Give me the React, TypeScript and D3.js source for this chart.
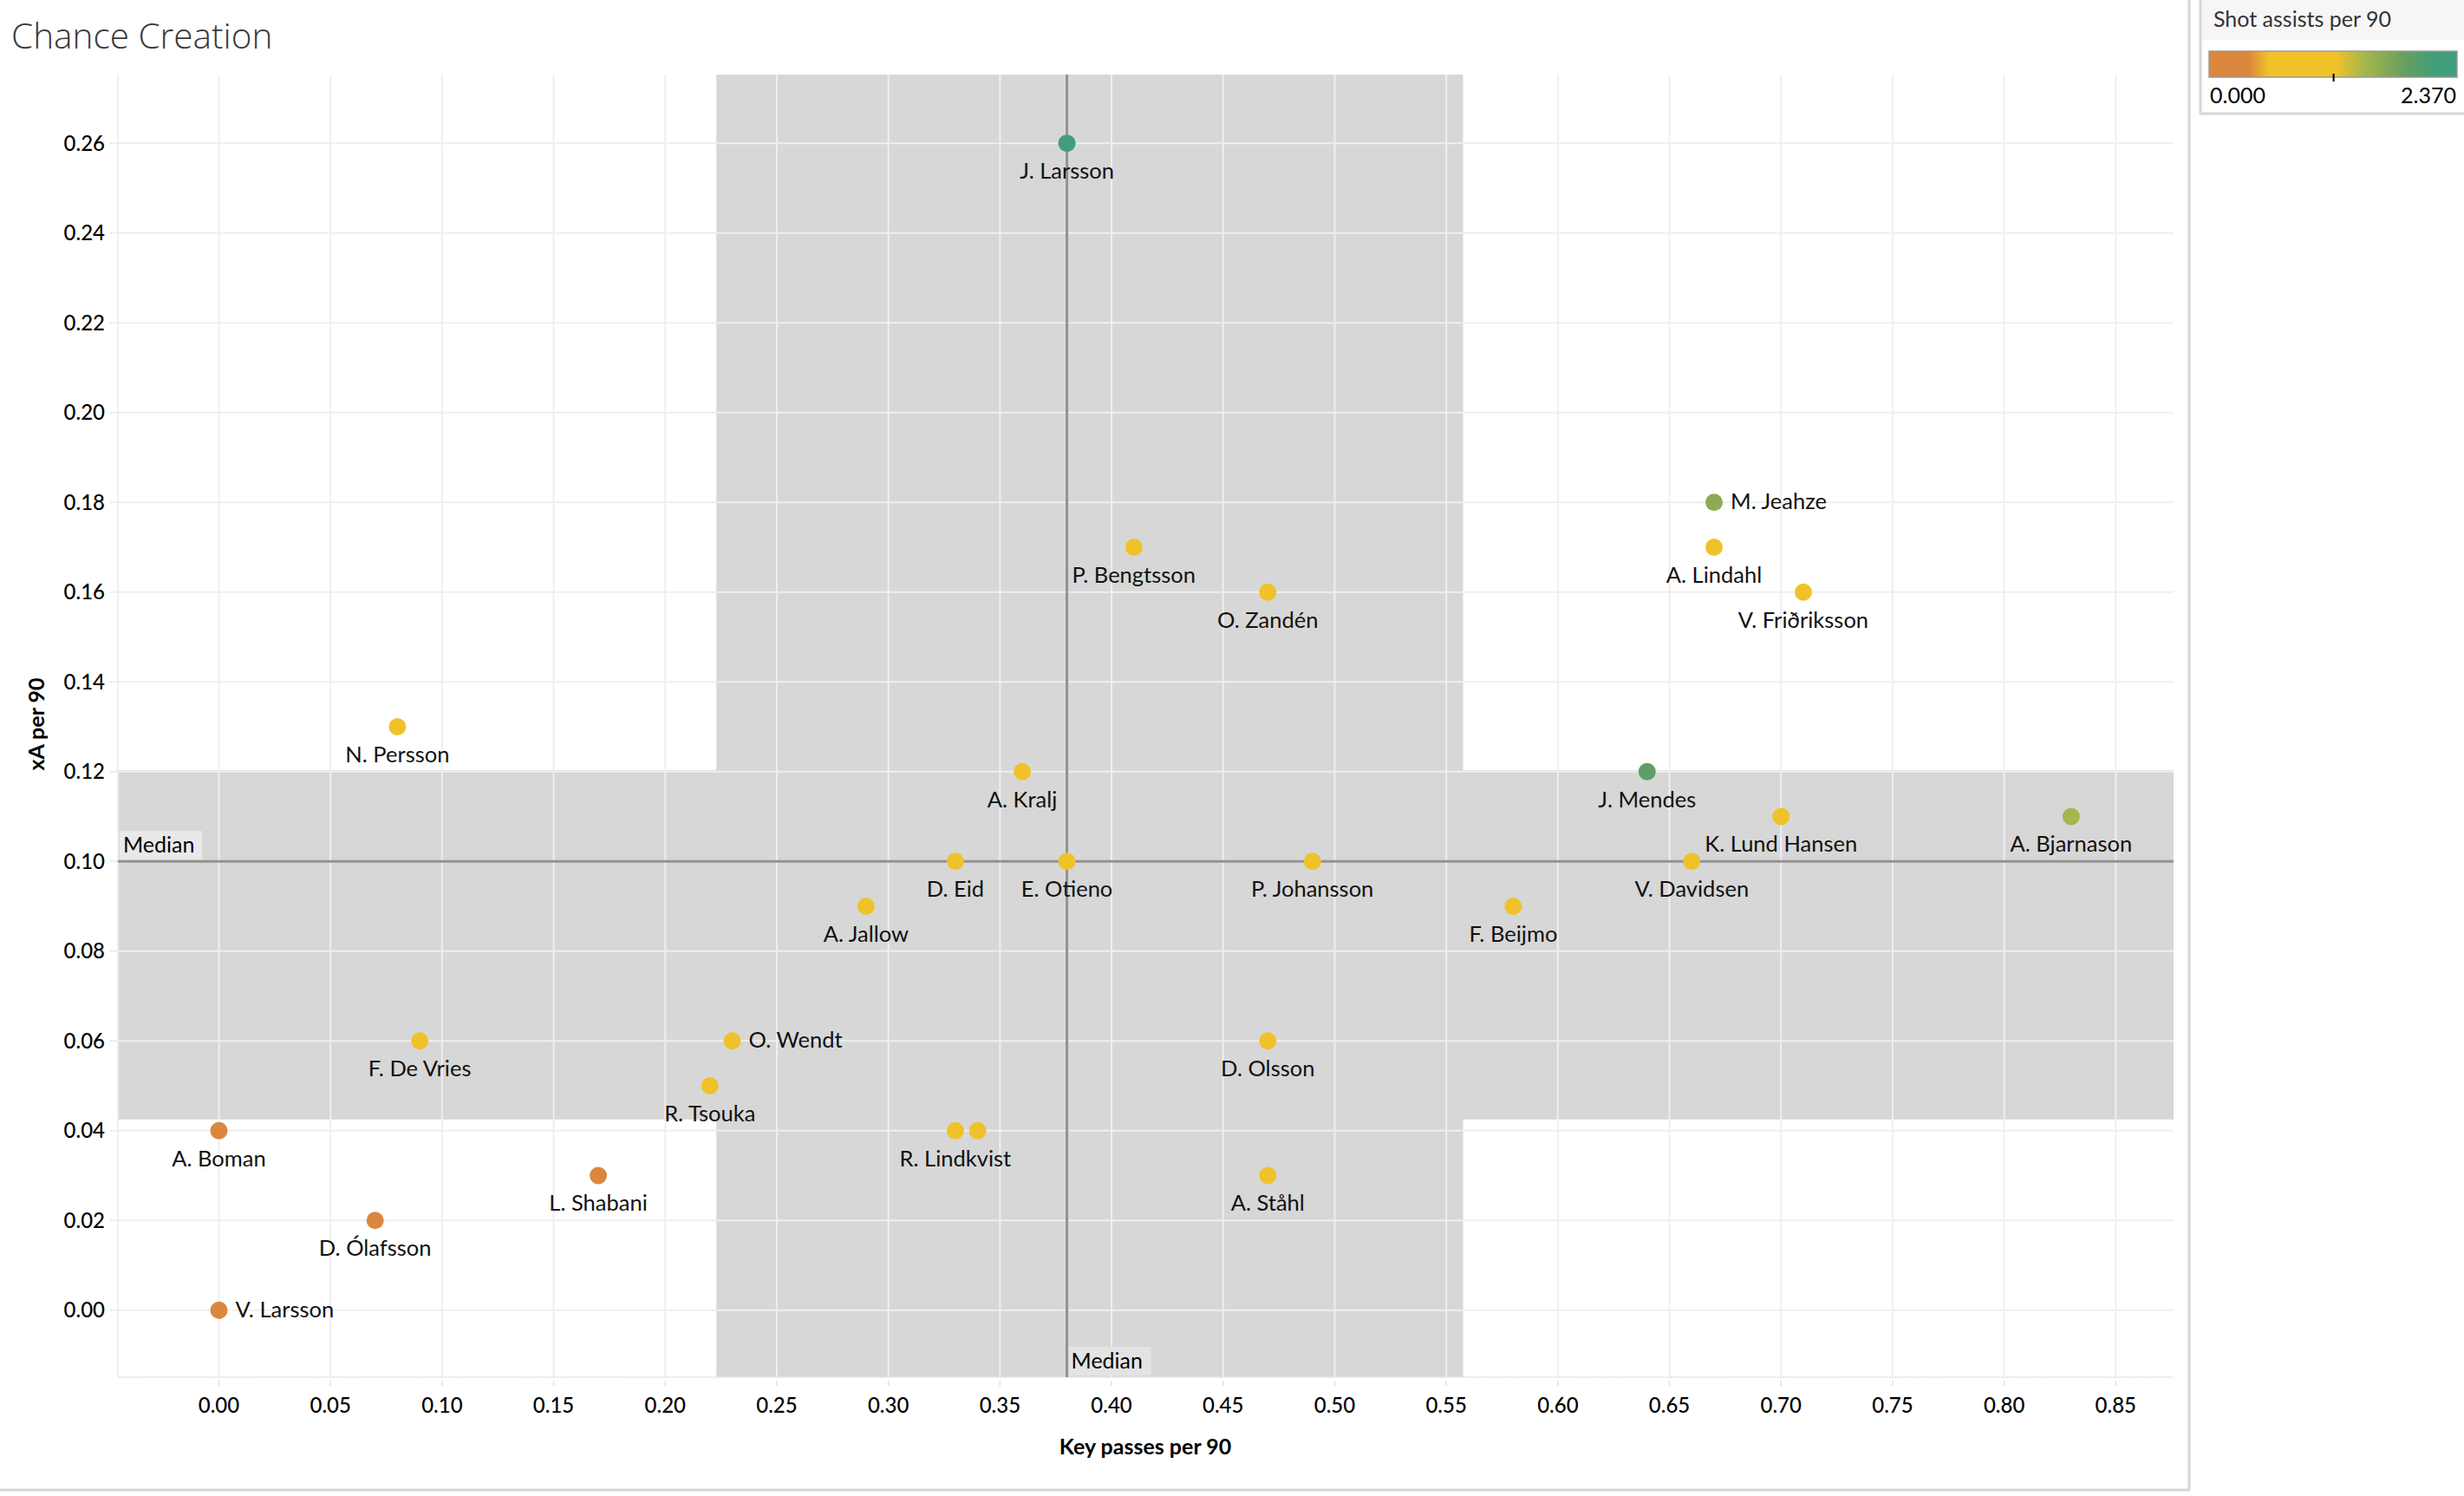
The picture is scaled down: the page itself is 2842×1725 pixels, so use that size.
import React from "react";
import * as d3 from "d3";

const players = ["J. Larsson","M. Jeahze","P. Bengtsson","A. Lindahl","O. Zandén","V. Friðriksson","N. Persson","A. Kralj","J. Mendes","K. Lund Hansen","A. Bjarnason","D. Eid","E. Otieno","P. Johansson","V. Davidsen","A. Jallow","F. Beijmo","F. De Vries","O. Wendt","D. Olsson","R. Tsouka","A. Boman","R. Lindkvist","","L. Shabani","A. Ståhl","D. Ólafsson","V. Larsson"];
const keyPasses = [0.38,0.67,0.41,0.67,0.47,0.71,0.08,0.36,0.64,0.70,0.83,0.33,0.38,0.49,0.66,0.29,0.58,0.09,0.23,0.47,0.22,0.00,0.33,0.34,0.17,0.47,0.07,0.00];
const xA = [0.26,0.18,0.17,0.17,0.16,0.16,0.13,0.12,0.12,0.11,0.11,0.10,0.10,0.10,0.10,0.09,0.09,0.06,0.06,0.06,0.05,0.04,0.04,0.04,0.03,0.03,0.02,0.00];
const shotAssists = [2.37,1.65,0.8,0.9,0.85,0.9,0.8,0.75,1.95,0.85,1.5,0.8,0.85,0.8,0.75,0.8,0.8,0.75,0.8,0.8,0.75,0.35,0.8,0.8,0.12,0.8,0.1,0.0];
const labelRight = ["M. Jeahze","O. Wendt","V. Larsson"];

const xTicks = [0,0.05,0.1,0.15,0.2,0.25,0.3,0.35,0.4,0.45,0.5,0.55,0.6,0.65,0.7,0.75,0.8,0.85];
const yTicks = [0,0.02,0.04,0.06,0.08,0.1,0.12,0.14,0.16,0.18,0.2,0.22,0.24,0.26];
const medianX = 0.38;
const medianY = 0.10;
const bandX = [0.2229, 0.5575];
const bandY = [0.0425, 0.1203];
const colorStops = [0, 0.38, 0.57, 1.21, 1.47, 1.85, 2.18, 2.37];
const colorRange = ["#db873e","#db873e","#f0c229","#f0c229","#a9b84a","#6a9f5e","#409e7c","#409e7c"];
const shotMax = 2.37;

const FONT = "Lato, 'Open Sans', sans-serif";

export default function App() {
  const L = 136, R = 2507, T = 86, B = 1588;
  const x = d3.scaleLinear().domain([-0.04526, 0.8759]).range([L, R]);
  const y = d3.scaleLinear().domain([-0.01493, 0.2753]).range([B, T]);
  const color = d3.scaleLinear<string>().domain(colorStops).range(colorRange).clamp(true);
  const fmt2 = d3.format(".2f");
  const legendX = d3.scaleLinear().domain([0, shotMax]).range([2548, 2834]);

  return (
    <svg width={2842} height={1725} style={{ position: "fixed", top: 0, left: 0, display: "block", background: "#fff" }}>
      <defs>
        <linearGradient id="lg" x1="0" x2="1" y1="0" y2="0">
          {colorStops.map((s, i) => (
            <stop key={i} offset={s / shotMax} stopColor={colorRange[i]} />
          ))}
        </linearGradient>
      </defs>
      {/* title */}
      <text x={13} y={56} fontFamily="'Open Sans', sans-serif" fontWeight={300} fontSize={40.5} fill="#3a3a3a">Chance Creation</text>

      {/* bands */}
      <rect x={x(bandX[0])} y={T} width={x(bandX[1]) - x(bandX[0])} height={B - T} fill="#d7d7d7" />
      <rect x={L} y={y(bandY[1])} width={R - L} height={y(bandY[0]) - y(bandY[1])} fill="#d7d7d7" />

      {/* gridlines */}
      {xTicks.map((t) => (
        <line key={"gx" + t} x1={x(t)} x2={x(t)} y1={T} y2={B} stroke="#efefef" strokeWidth={2} />
      ))}
      {yTicks.map((t) => (
        <line key={"gy" + t} x1={L} x2={R} y1={y(t)} y2={y(t)} stroke="#efefef" strokeWidth={2} />
      ))}
      <line x1={L} x2={L} y1={T} y2={B} stroke="#efefef" strokeWidth={2} />
      <line x1={L} x2={R} y1={B} y2={B} stroke="#e6e6e6" strokeWidth={2} strokeDasharray="2,1" />

      {/* ticks */}
      {xTicks.map((t) => (
        <g key={"tx" + t}>
          <line x1={x(t)} x2={x(t)} y1={B + 4} y2={B + 10} stroke="#e0e0e0" strokeWidth={1.5} />
          <text x={x(t)} y={1629} textAnchor="middle" fontFamily={FONT} fontWeight={500} fontSize={24} fill="#000">{fmt2(t)}</text>
        </g>
      ))}
      {yTicks.map((t) => (
        <g key={"ty" + t}>
          <line x1={127} x2={135} y1={y(t)} y2={y(t)} stroke="#e0e0e0" strokeWidth={1.5} strokeDasharray="2,1" />
          <text x={121} y={y(t)} dy="0.35em" textAnchor="end" fontFamily={FONT} fontWeight={500} fontSize={24} fill="#000">{fmt2(t)}</text>
        </g>
      ))}

      {/* axis titles */}
      <text x={1321} y={1677} textAnchor="middle" fontFamily={FONT} fontWeight={700} fontSize={25} fill="#000">Key passes per 90</text>
      <text transform="translate(51,835) rotate(-90)" textAnchor="middle" fontFamily={FONT} fontWeight={700} fontSize={25} fill="#000">xA per 90</text>

      {/* median lines */}
      <line x1={x(medianX)} x2={x(medianX)} y1={T} y2={B} stroke="#929292" strokeWidth={3} />
      <line x1={L} x2={R} y1={y(medianY)} y2={y(medianY)} stroke="#929292" strokeWidth={3} />
      <rect x={L + 2} y={y(medianY) - 35} width={95} height={33} fill="#e9e9e9" />
      <text x={L + 6} y={y(medianY) - 10} fontFamily={FONT} fontSize={25} fill="#000">Median</text>
      <rect x={x(medianX) + 2} y={B - 35} width={95} height={33} fill="#e3e3e3" />
      <text x={x(medianX) + 5} y={B - 10} fontFamily={FONT} fontSize={25} fill="#000">Median</text>

      {/* points */}
      {players.map((p, i) => (
        <circle key={"c" + i} cx={x(keyPasses[i])} cy={y(xA[i])} r={10} fill={color(shotAssists[i])} />
      ))}
      {players.map((p, i) => {
        if (!p) return null;
        const right = labelRight.includes(p);
        return (
          <text key={"l" + i}
            x={right ? x(keyPasses[i]) + 19 : x(keyPasses[i])}
            y={right ? y(xA[i]) + 8 : y(xA[i]) + 41}
            textAnchor={right ? "start" : "middle"}
            fontFamily={FONT} fontSize={25.5} fill="#111">{p}</text>
        );
      })}

      {/* frame */}
      <line x1={2525} x2={2525} y1={0} y2={1718} stroke="#d6d6d6" strokeWidth={3} />
      <line x1={0} x2={2526} y1={1718} y2={1718} stroke="#d6d6d6" strokeWidth={3} />

      {/* legend */}
      <rect x={2538} y={0} width={310} height={46} fill="#f6f6f6" />
      <rect x={2538} y={-3} width={310} height={134} fill="none" stroke="#d6d6d6" strokeWidth={3} />
      <text x={2553} y={31} fontFamily={FONT} fontSize={25} fill="#333">Shot assists per 90</text>
      <rect x={legendX(0)} y={59} width={legendX(shotMax) - legendX(0)} height={30} fill="url(#lg)" stroke="#9a9a9a" strokeWidth={1.5} />
      <line x1={legendX(1.19)} x2={legendX(1.19)} y1={85} y2={94} stroke="#000" strokeWidth={2} />
      <text x={2549} y={119} fontFamily={FONT} fontSize={25} fill="#000">0.000</text>
      <text x={2833} y={119} textAnchor="end" fontFamily={FONT} fontSize={25} fill="#000">2.370</text>
    </svg>
  );
}
